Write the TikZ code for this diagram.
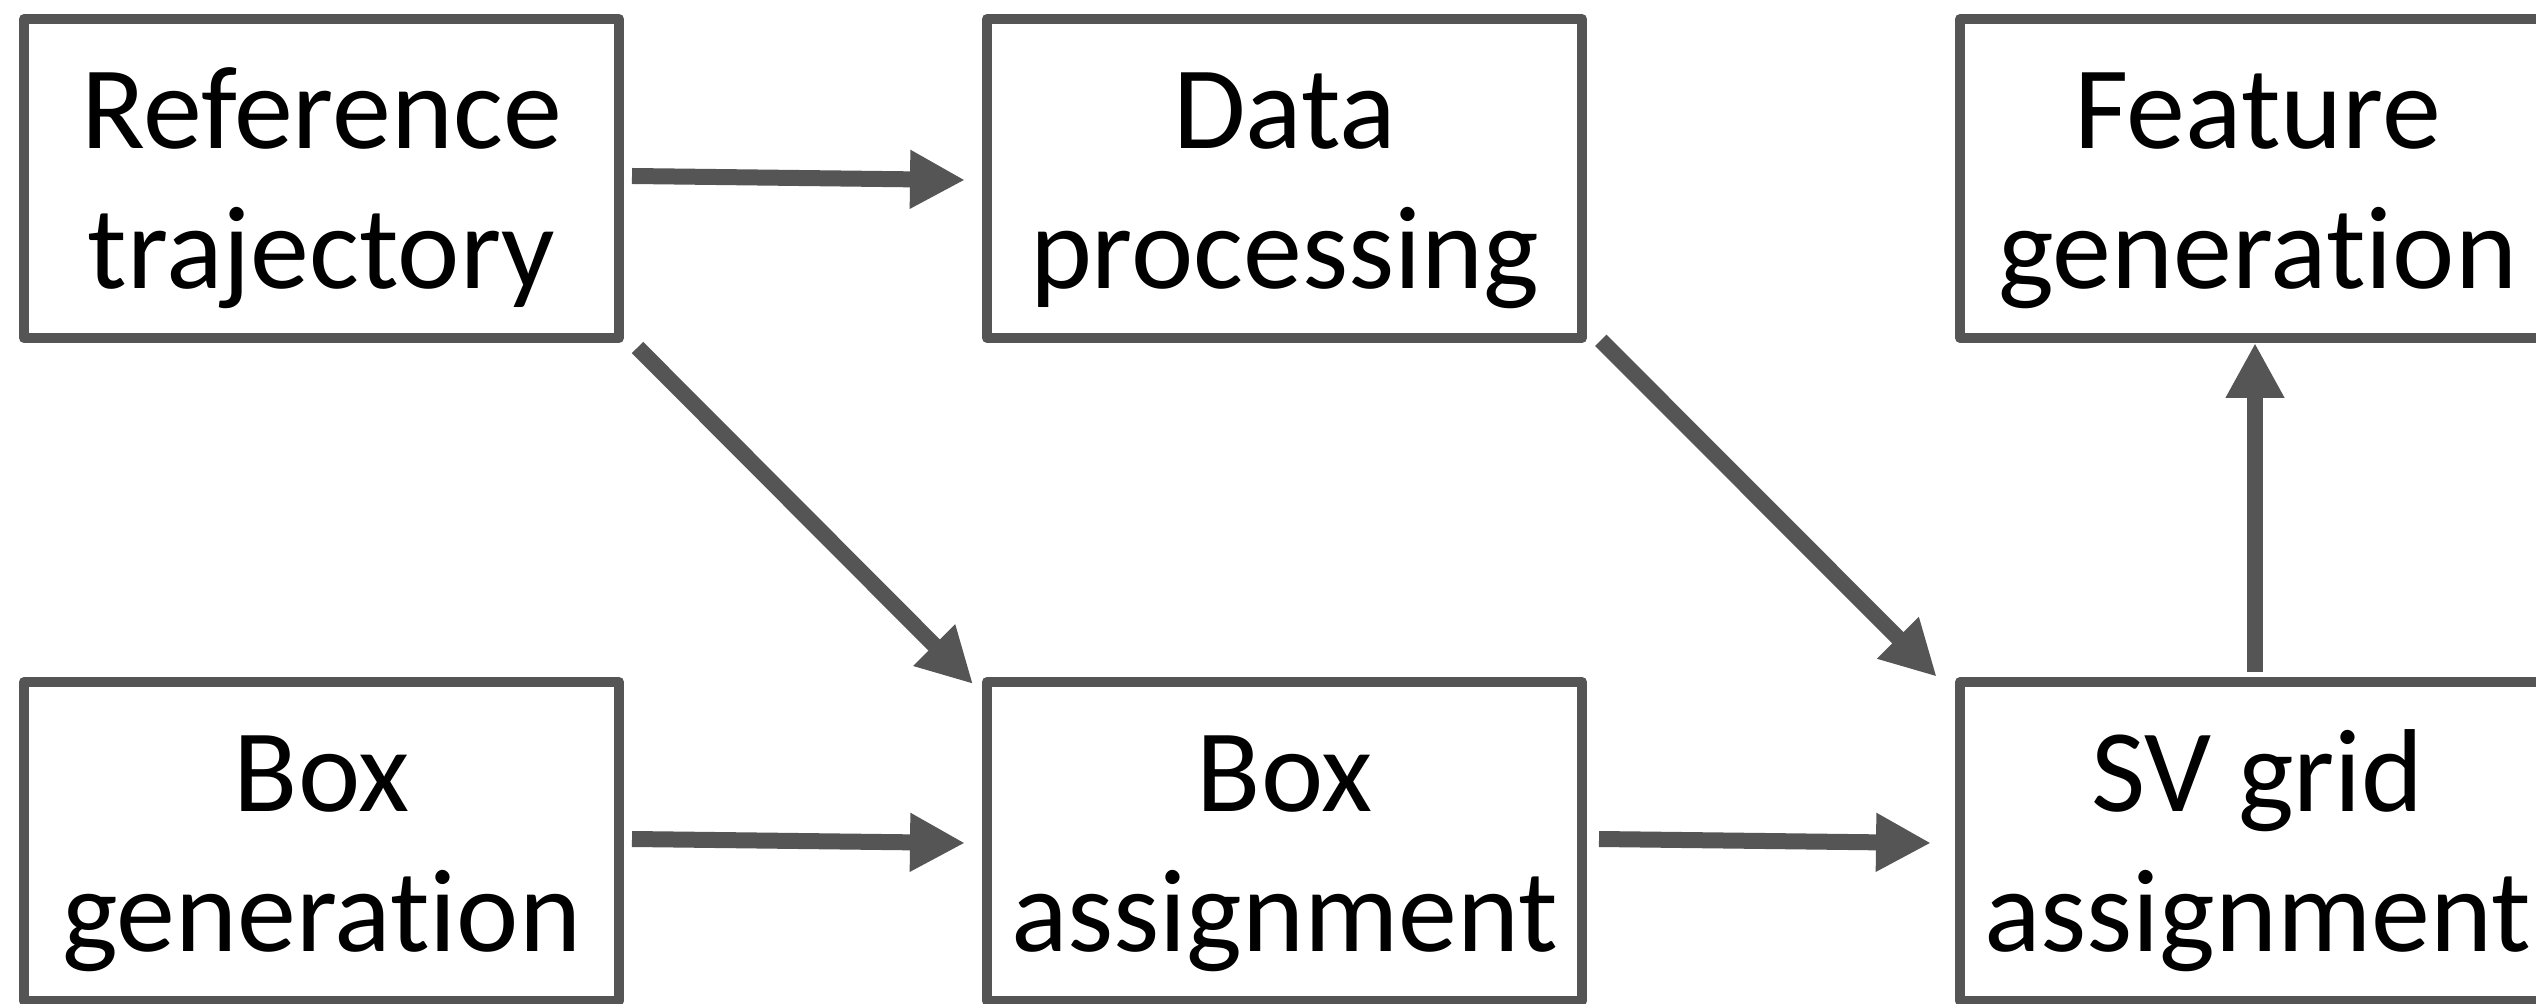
\documentclass[tikz,border=0pt]{standalone}
\usepackage{fontspec}
\setmainfont{Carlito}[Ligatures=NoCommon]
\usetikzlibrary{arrows.meta}
\definecolor{edgegray}{RGB}{85,85,85}
\newcommand\twoline[2]{\rule{0pt}{57.8pt}#1\\#2\rule[-18pt]{0pt}{18pt}}
\begin{document}
\begin{tikzpicture}[x=0.5pt,y=-0.5pt,
  procbox/.style={draw=edgegray, line width=5pt, line join=round, fill=white,
    minimum width=297.5pt, minimum height=159.5pt, inner sep=0pt, align=center,
    font=\fontsize{59}{70}\selectfont, text=black},
  flow/.style={draw=edgegray, line width=8pt, -{Triangle[length=27.5pt,width=27.5pt]}}
]
\useasboundingbox[fill=white] (0,0) rectangle (2536,1004);
\node[procbox] (ref)  at (321.5,178.5) {\twoline{Reference}{trajectory}};
\node[procbox] (data) at (1284.5,178.5) {\twoline{Data}{processing}};
\node[procbox] (feat) at (2257.5,178.5) {\twoline{Feature}{generation}};
\node[procbox] (bgen) at (321.5,841.5) {\twoline{Box}{generation}};
\node[procbox] (bas)  at (1284.5,841.5) {\twoline{Box}{assignment}};
\node[procbox] (sv)   at (2257.5,841.5) {\twoline{SV grid}{assignment}};

\draw[flow] ([xshift=4pt,yshift=1.25pt]ref.east) -- ([xshift=-8.5pt,yshift=-0.75pt]data.west);
\draw[flow] ([xshift=4pt,yshift=1.25pt]bgen.east) -- ([xshift=-8.5pt,yshift=-0.75pt]bas.west);
\draw[flow] ([xshift=6pt,yshift=1.25pt]bas.east) -- ([xshift=-12pt,yshift=-0.75pt]sv.west);
\draw[flow] ([xshift=6.75pt,yshift=-2.25pt]ref.south east) -- ([xshift=-4.5pt,yshift=-3.5pt]bas.north west);
\draw[flow] ([xshift=6.9pt,yshift=1.35pt]data.south east) -- ([xshift=-9.15pt,yshift=0.15pt]sv.north west);
\draw[flow] ([xshift=-1.25pt,yshift=2.5pt]sv.north) -- ([xshift=-1.25pt]feat.south);
\end{tikzpicture}
\end{document}
